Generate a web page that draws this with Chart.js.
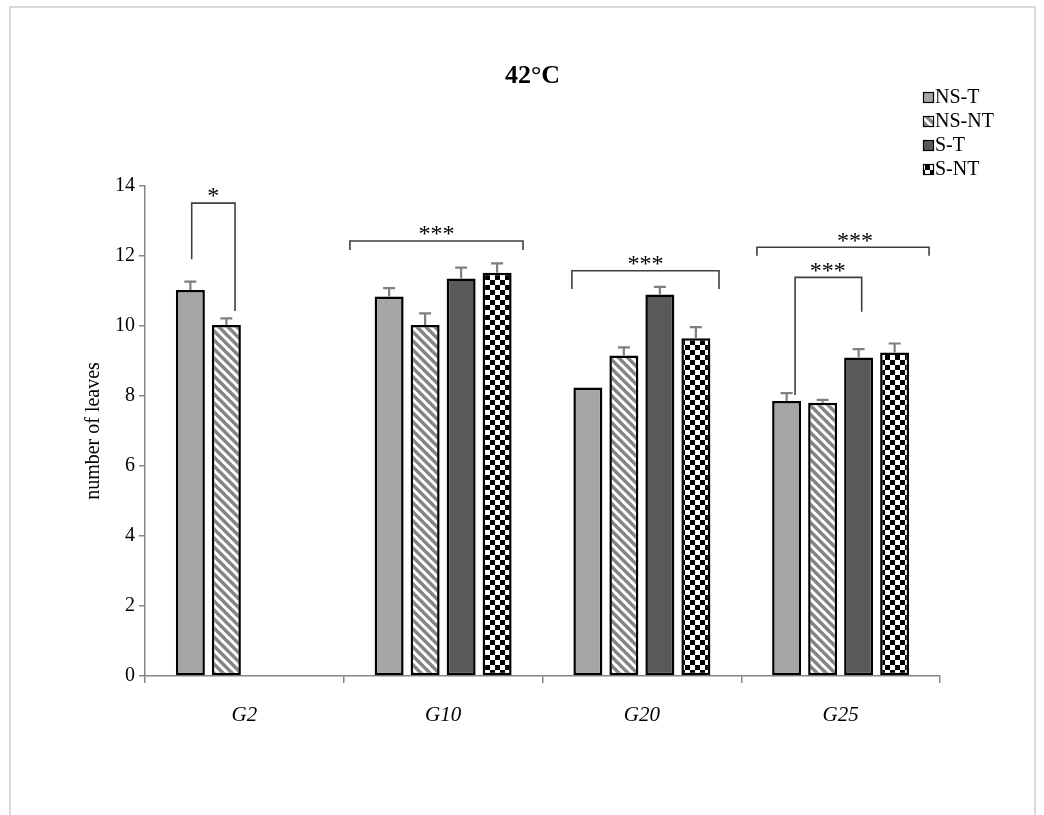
<!DOCTYPE html>
<html>
<head>
<meta charset="utf-8">
<title>42°C</title>
<script src="https://cdn.jsdelivr.net/npm/chart.js@4.4.1/dist/chart.umd.min.js"></script>
<style>
    html, body { margin: 0; padding: 0; background: #fff; overflow: hidden; }
    #wrap { position: relative; width: 1044px; height: 815px; }
    #frame {
        position: absolute; left: 9px; top: 6px; width: 1027px; height: 840px;
        border: 2px solid #d9d9d9; box-sizing: border-box; pointer-events: none;
    }
    canvas { position: absolute; left: 0; top: 0; }
</style>
</head>
<body>
<div id="wrap">
    <canvas id="leafChart" width="1044" height="815"></canvas>
    <div id="frame"></div>
</div>
<script>
const groups = ['G2', 'G10', 'G20', 'G25'];
const seriesNames = ['NS-T', 'NS-NT', 'S-T', 'S-NT'];

// mean number of leaves per group
const nsT  = [11.03, 10.84, 8.24, 7.86];
const nsNT = [10.03, 10.03, 9.16, 7.81];
const sT   = [null, 11.36, 10.90, 9.10];
const sNT  = [null, 11.52, 9.65, 9.24];

// standard errors (upper bars only)
const nsTErr  = [0.24, 0.24, 0, 0.22];
const nsNTErr = [0.19, 0.33, 0.23, 0.08];
const sTErr   = [null, 0.31, 0.22, 0.24];
const sNTErr  = [null, 0.27, 0.32, 0.26];

const yMin = 0;
const yMax = 14;
const yStep = 2;

// significance brackets: category index, left/right as fraction of category width,
// top and leg ends in axis units, label x as fraction of category width
const brackets = [
    { cat: 0, from: -0.265, to: -0.047, top: 13.51, leftEnd: 11.91, rightEnd: 10.43, label: '*', at: -0.156 },
    { cat: 1, from: -0.469, to: 0.402, top: 12.43, leftEnd: 12.17, rightEnd: 12.17, label: '***', at: -0.033 },
    { cat: 2, from: -0.352, to: 0.388, top: 11.58, leftEnd: 11.06, rightEnd: 11.06, label: '***', at: 0.018 },
    { cat: 3, from: -0.421, to: 0.445, top: 12.25, leftEnd: 12.01, rightEnd: 12.01, label: '***', at: 0.072 },
    { cat: 3, from: -0.229, to: 0.106, top: 11.39, leftEnd: 8.03, rightEnd: 10.41, label: '***', at: -0.065 }
];

const serif = "'Liberation Serif', 'Times New Roman', serif";
const canvas = document.getElementById('leafChart');
const ctx = canvas.getContext('2d');

function stripePattern() {
    const c = document.createElement('canvas');
    c.width = 9; c.height = 9;
    const g = c.getContext('2d');
    g.fillStyle = '#fff';
    g.fillRect(0, 0, 9, 9);
    g.strokeStyle = '#858585';
    g.lineWidth = 3.4;
    g.beginPath();
    g.moveTo(-2, -2); g.lineTo(11, 11);
    g.moveTo(-7, 2); g.lineTo(2, 11);
    g.moveTo(7, -2); g.lineTo(11, 2);
    g.stroke();
    return ctx.createPattern(c, 'repeat');
}

function checkerPattern() {
    const c = document.createElement('canvas');
    c.width = 10; c.height = 10;
    const g = c.getContext('2d');
    g.fillStyle = '#fff';
    g.fillRect(0, 0, 10, 10);
    g.fillStyle = '#000';
    g.fillRect(0, 0, 5, 5);
    g.fillRect(5, 5, 5, 5);
    return ctx.createPattern(c, 'repeat');
}

const fills = ['#a6a6a6', stripePattern(), '#595959', checkerPattern()];
const values = [nsT, nsNT, sT, sNT];
const errors = [nsTErr, nsNTErr, sTErr, sNTErr];

// error bars, significance brackets, title and legend
const overlay = {
    id: 'overlay',
    afterDatasetsDraw(chart) {
        const { ctx, chartArea, scales: { x, y } } = chart;
        ctx.save();

        // error bars
        ctx.strokeStyle = '#7f7f7f';
        ctx.lineWidth = 2.2;
        errors.forEach((errs, i) => {
            const meta = chart.getDatasetMeta(i);
            meta.data.forEach((bar, j) => {
                const e = errs[j];
                const v = values[i][j];
                if (!e || v == null) return;
                const yTop = y.getPixelForValue(v + e);
                ctx.beginPath();
                ctx.moveTo(bar.x, bar.y);
                ctx.lineTo(bar.x, yTop);
                ctx.moveTo(bar.x - 6, yTop);
                ctx.lineTo(bar.x + 6, yTop);
                ctx.stroke();
            });
        });

        // brackets
        const cw = x.getPixelForValue(1) - x.getPixelForValue(0);
        ctx.strokeStyle = '#404040';
        ctx.lineWidth = 1.6;
        ctx.fillStyle = '#000';
        ctx.font = '24px ' + serif;
        ctx.textAlign = 'center';
        ctx.textBaseline = 'middle';
        brackets.forEach(b => {
            const cx = x.getPixelForValue(b.cat);
            const x0 = cx + b.from * cw;
            const x1 = cx + b.to * cw;
            const yt = y.getPixelForValue(b.top);
            ctx.beginPath();
            ctx.moveTo(x0, y.getPixelForValue(b.leftEnd));
            ctx.lineTo(x0, yt);
            ctx.lineTo(x1, yt);
            ctx.lineTo(x1, y.getPixelForValue(b.rightEnd));
            ctx.stroke();
            ctx.fillText(b.label, cx + b.at * cw, yt - 6);
        });

        // title
        ctx.font = 'bold 26px ' + serif;
        ctx.textBaseline = 'middle';
        ctx.fillText('42°C', (chartArea.left + chartArea.right) / 2 - 10, 76);

        // legend
        ctx.font = '20px ' + serif;
        ctx.textAlign = 'left';
        chart.data.datasets.forEach((ds, i) => {
            const ly = 97 + i * 24;
            ctx.fillStyle = ds.backgroundColor;
            ctx.fillRect(923, ly - 5, 11, 11);
            ctx.strokeStyle = '#000';
            ctx.lineWidth = 1.2;
            ctx.strokeRect(923.5, ly - 4.5, 10, 10);
            ctx.fillStyle = '#000';
            ctx.fillText(ds.label, 935, ly + 1);
        });
        ctx.restore();
    }
};

new Chart(ctx, {
    type: 'bar',
    data: {
        labels: groups,
        datasets: seriesNames.map((name, i) => ({
            label: name,
            data: values[i],
            backgroundColor: fills[i],
            borderColor: '#000',
            borderWidth: 2.5,
            borderSkipped: false,
            categoryPercentage: 0.7245,
            barPercentage: 0.805
        }))
    },
    options: {
        responsive: false,
        animation: false,
        layout: { padding: { left: 80, right: 104, top: 186, bottom: 79 } },
        plugins: {
            legend: { display: false },
            title: { display: false },
            tooltip: { enabled: false }
        },
        scales: {
            x: {
                offset: true,
                grid: { display: true, drawOnChartArea: false, offset: true, tickLength: 7, color: '#868686', lineWidth: 1.5 },
                border: { color: '#868686', width: 1.5 },
                ticks: { color: '#000', font: { family: serif, size: 21, style: 'italic' }, padding: 20 },
                afterFit(scale) { scale.height = 60; }
            },
            y: {
                min: yMin,
                max: yMax,
                grid: { display: true, drawOnChartArea: false, tickLength: 6, color: '#868686', lineWidth: 1.5 },
                border: { color: '#868686', width: 1.5 },
                ticks: { stepSize: yStep, color: '#000', font: { family: serif, size: 20 }, padding: 4 },
                title: { display: true, text: 'number of leaves', color: '#000', font: { family: serif, size: 20 }, padding: 2 },
                afterFit(scale) { scale.width = 65; }
            }
        }
    },
    plugins: [overlay]
});
</script>
</body>
</html>
